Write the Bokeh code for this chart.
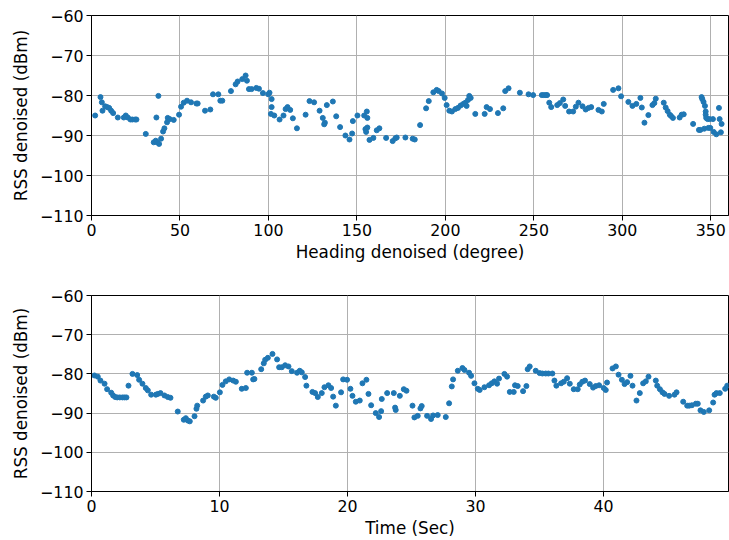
from bokeh.plotting import figure
from bokeh.layouts import column
from bokeh.models import FixedTicker, CustomJSTickFormatter, Range1d
from bokeh.embed import file_html
from bokeh.resources import INLINE

# ---- Top panel: RSS vs heading ----
heading = [
    2.07, 5.08, 5.84, 6.21, 7.72, 8.85, 9.97, 11.10, 12.23, 14.87, 18.25, 19.38, 20.51,
    22.01, 23.14, 24.65, 25.40, 30.67, 35.18, 36.31, 37.06, 38.19, 39.32, 36.68, 37.81,
    40.45, 41.20, 42.70, 43.08, 44.21, 46.47, 49.48, 50.61, 52.11, 53.99, 56.25, 59.26,
    60.01, 64.15, 67.16, 68.67, 71.68, 72.80, 73.93, 78.82, 81.46, 82.58, 85.22, 87.10,
    87.85, 88.98, 90.49, 93.12, 94.63, 96.88, 99.89, 100.6, 101.8, 101.8, 101.4, 103.3,
    106.3, 108.5, 109.7, 110.8, 112.3, 113.8, 116.1, 121.0, 123.2, 125.8, 128.9, 130.7,
    131.9, 131.5, 133.0, 136.4, 138.3, 140.5, 143.5, 145.8, 147.3, 147.7, 150.3, 154.1,
    155.6, 155.9, 154.8, 155.2, 155.9, 157.1, 159.3, 161.2, 162.7, 166.5, 170.2, 171.7,
    172.5, 177.4, 181.5, 182.7, 185.7, 189.1, 190.6, 193.2, 195.1, 196.2, 198.1, 199.6,
    200.7, 202.2, 203.7, 205.6, 207.1, 208.6, 210.1, 211.3, 212.0, 212.8, 213.5, 214.3,
    216.9, 222.2, 223.3, 225.2, 229.7, 232.7, 233.8, 235.7, 242.1, 247.0, 249.6, 254.5,
    255.6, 256.8, 257.5, 258.7, 259.8, 263.2, 264.7, 266.6, 267.7, 269.9, 272.2, 273.7,
    275.2, 277.5, 279.3, 280.9, 282.4, 286.5, 288.4, 289.5, 294.8, 297.8, 299.3, 303.4,
    305.7, 307.9, 310.2, 311.0, 312.5, 314.7, 317.0, 318.1, 318.9, 323.4, 324.5, 325.6,
    326.8, 327.5, 328.6, 332.4, 333.5, 334.7, 340.0, 343.3, 344.1, 346.3, 348.6, 349.7,
    351.6, 353.1, 355.7, 344.8, 345.2, 345.9, 346.7, 347.1, 347.1, 347.4, 348.2, 349.3,
    351.2, 354.6, 355.0, 356.1,
]
rss_heading = [
    -85.0, -80.4, -81.7, -83.8, -82.7, -82.9, -83.1, -83.8, -84.4, -85.5, -85.5, -85.0, -85.5,
    -86.0, -86.0, -86.0, -86.0, -89.6, -91.7, -91.3, -91.7, -92.1, -90.8, -85.5, -80.1,
    -89.0, -88.2, -86.7, -85.6, -85.9, -86.1, -84.8, -82.8, -81.8, -81.3, -81.7, -82.0,
    -82.0, -83.8, -83.5, -79.7, -79.7, -81.3, -81.3, -78.9, -77.2, -76.5, -75.9, -75.0,
    -76.3, -78.4, -78.4, -78.1, -78.3, -79.4, -79.7, -79.3, -80.9, -82.9, -84.6, -85.0,
    -86.0, -85.0, -83.4, -82.9, -83.6, -85.7, -88.2, -84.8, -81.4, -81.7, -83.8, -85.6,
    -86.8, -87.2, -82.4, -81.5, -85.2, -87.9, -90.0, -91.0, -89.5, -86.4, -85.0, -85.0,
    -84.0, -85.6, -88.4, -89.1, -88.0, -91.1, -90.6, -88.7, -88.2, -90.6, -91.4, -90.7,
    -90.5, -90.5, -90.8, -91.0, -87.4, -83.2, -81.4, -79.2, -78.6, -78.9, -79.5, -80.6,
    -82.4, -83.8, -84.0, -83.4, -83.1, -82.5, -82.1, -81.8, -82.6, -81.1, -80.1, -80.6,
    -84.6, -84.6, -82.9, -83.4, -84.4, -83.2, -78.9, -78.2, -79.3, -79.7, -79.9, -79.9,
    -79.9, -79.9, -79.9, -81.8, -82.9, -82.4, -81.9, -81.0, -82.6, -84.0, -84.0, -82.8,
    -81.8, -82.7, -83.5, -83.1, -82.9, -83.6, -84.0, -82.1, -78.6, -78.2, -80.2, -81.6,
    -82.6, -82.1, -80.6, -83.0, -86.8, -84.9, -82.4, -81.9, -80.8, -81.8, -83.0, -83.9,
    -84.8, -85.1, -85.6, -85.5, -84.8, -84.7, -87.1, -88.6, -88.6, -88.3, -88.1, -88.1,
    -89.1, -89.7, -89.2, -80.4, -80.9, -81.6, -82.6, -84.0, -84.8, -85.6, -85.9, -85.9,
    -85.9, -83.1, -85.9, -87.1,
]

# ---- Bottom panel: RSS vs time ----
time_sec = [
    0.23, 0.49, 0.70, 1.02, 1.22, 1.54, 1.69, 1.85, 2.01, 2.21, 2.42, 2.58, 2.73, 2.89,
    3.20, 3.57, 3.72, 3.98, 4.24, 4.40, 4.66, 5.03, 5.18, 5.39, 5.70, 5.96, 6.17, 6.74,
    7.21, 7.37, 7.53, 7.68, 8.05, 8.20, 8.26, 8.72, 8.93, 9.09, 9.56, 9.71, 10.03, 10.23,
    10.49, 10.76, 11.07, 11.28, 11.74, 12.06, 12.16, 12.53, 12.63, 12.73, 13.26, 13.46,
    13.57, 13.78, 14.14, 14.50, 14.66, 14.87, 15.13, 15.39, 15.65, 16.06, 16.27, 16.43,
    16.69, 16.79, 17.26, 17.47, 17.68, 17.99, 18.20, 18.51, 18.72, 18.88, 19.09, 19.50,
    19.66, 19.97, 20.23, 20.39, 20.65, 20.96, 21.17, 21.48, 21.64, 21.85, 22.21, 22.47,
    22.63, 22.68, 23.10, 23.62, 23.72, 23.77, 24.09, 24.40, 24.61, 25.08, 25.23, 25.49,
    25.70, 25.80, 26.22, 26.53, 26.69, 27.05, 27.68, 27.94, 28.15, 28.25, 28.62, 28.98,
    29.14, 29.50, 29.66, 29.92, 30.18, 30.33, 30.70, 31.06, 31.27, 31.48, 31.69, 31.84,
    32.26, 32.47, 32.68, 32.99, 33.09, 33.30, 33.72, 33.98, 34.08, 34.24, 34.71, 35.02,
    35.23, 35.49, 35.70, 36.01, 36.17, 36.32, 36.69, 36.90, 37.16, 37.37, 37.68, 37.99,
    38.15, 38.35, 38.56, 38.93, 39.19, 39.40, 39.66, 40.02, 40.18, 40.28, 40.71, 40.97,
    41.18, 41.44, 41.65, 41.85, 42.11, 42.27, 42.58, 42.84, 43.10, 43.31, 43.52, 44.09,
    44.20, 44.41, 44.61, 44.77, 45.13, 45.55, 45.71, 46.23, 46.54, 46.70, 46.91, 47.22,
    47.37, 47.58, 47.84, 48.26, 48.57, 48.68, 48.83, 49.09, 49.51, 49.67,
]
rss_time = [
    -80.4, -80.7, -81.7, -82.5, -83.9, -84.8, -85.5, -85.9, -86.0, -86.0, -86.0, -86.0, -86.0, -83.0,
    -80.0, -80.3, -81.5, -82.5, -83.6, -84.2, -85.3, -85.3, -85.1, -84.9, -85.5, -85.9, -86.1, -89.6,
    -91.7, -91.3, -91.9, -92.1, -90.8, -88.9, -88.1, -86.8, -85.8, -85.5, -85.8, -86.1, -84.7, -82.8,
    -81.9, -81.4, -81.7, -82.0, -83.8, -83.6, -79.7, -79.7, -81.4, -81.3, -78.8, -77.3,
    -76.4, -75.9, -74.9, -76.3, -78.3, -78.3, -77.8, -78.1, -79.3, -79.7, -79.2, -79.6,
    -80.8, -83.0, -84.6, -84.9, -85.9, -84.9, -83.4, -82.9, -83.6, -85.8, -88.1, -84.7,
    -81.4, -81.5, -83.8, -85.6, -87.1, -86.8, -82.4, -81.5, -85.1, -88.0, -90.0, -91.0,
    -89.5, -86.4, -84.9, -84.9, -88.6, -89.2, -85.6, -83.9, -84.3, -88.1, -91.1, -90.7,
    -88.8, -88.2, -90.7, -91.5, -90.6, -90.5, -91.0, -87.5, -83.2, -81.4, -79.2, -78.5,
    -79.0, -79.7, -80.5, -82.4, -83.8, -84.1, -83.4, -82.9, -82.4, -81.9, -82.5, -81.2,
    -80.0, -80.7, -84.6, -84.6, -82.9, -83.1, -84.4, -83.1, -78.8, -78.1, -79.2, -79.8,
    -79.9, -79.9, -79.9, -79.9, -81.7, -83.0, -82.4, -82.0, -81.1, -82.5, -83.9, -83.9,
    -82.7, -82.0, -81.7, -82.6, -83.5, -83.1, -82.9, -83.6, -84.1, -82.2, -78.6, -78.1,
    -80.2, -81.5, -82.6, -82.1, -80.5, -83.0, -86.8, -84.9, -82.4, -81.9, -80.7, -81.7,
    -83.0, -83.9, -84.7, -85.1, -85.6, -85.3, -84.7, -87.1, -88.1, -88.1, -88.0, -87.6,
    -87.6, -89.3, -89.7, -89.3, -87.3, -85.3, -84.9, -84.9, -83.8, -83.0,
]

y_ticks = [-110, -100, -90, -80, -70, -60]
heading_ticks = [0, 50, 100, 150, 200, 250, 300, 350]
time_ticks = [0, 10, 20, 30, 40]

FONT = "DejaVu Sans"
TICK_FS = "15.8px"
LABEL_FS = "16.8px"
BLUE = "#1f77b4"

minus_fmt = CustomJSTickFormatter(code="""
    var s = Math.abs(tick).toString();
    return tick < 0 ? '\u2212' + s : s;
""")


def style(p, xticks, xlabel):
    p.xaxis.ticker = FixedTicker(ticks=xticks)
    p.yaxis.ticker = FixedTicker(ticks=y_ticks)
    p.yaxis.formatter = minus_fmt
    p.xaxis.axis_label = xlabel
    p.yaxis.axis_label = "RSS denoised (dBm)"
    for ax in (p.xaxis[0], p.yaxis[0]):
        ax.axis_line_color = "black"
        ax.axis_line_width = 1
        ax.major_tick_line_color = "black"
        ax.major_tick_out = 5
        ax.major_tick_in = 0
        ax.minor_tick_line_color = None
        ax.major_label_text_font = FONT
        ax.major_label_text_font_size = TICK_FS
        ax.major_label_text_color = "black"
        ax.axis_label_text_font = FONT
        ax.axis_label_text_font_size = LABEL_FS
        ax.axis_label_text_font_style = "normal"
        ax.axis_label_text_color = "black"
        ax.major_label_standoff = 3
    p.xaxis.axis_label_standoff = 3
    p.yaxis.axis_label_standoff = 6
    p.grid.grid_line_color = "#b0b0b0"
    p.grid.grid_line_width = 1
    p.outline_line_color = "black"
    p.outline_line_width = 1
    p.outline_line_alpha = 1
    p.background_fill_color = "white"
    p.border_fill_color = "white"


p1 = figure(width=729, height=280, output_backend="svg", toolbar_location=None,
            x_range=Range1d(0, 360), y_range=Range1d(-110, -60),
            min_border_left=91, min_border_right=1, min_border_top=15,
            min_border_bottom=65)
p1.scatter(heading, rss_heading, size=5, color=BLUE, line_color=BLUE)
style(p1, heading_ticks, "Heading denoised (degree)")

p2 = figure(width=729, height=260, output_backend="svg", toolbar_location=None,
            x_range=Range1d(0, 49.77), y_range=Range1d(-110, -60),
            min_border_left=91, min_border_right=1, min_border_top=15,
            min_border_bottom=45)
p2.scatter(time_sec, rss_time, size=5, color=BLUE, line_color=BLUE)
style(p2, time_ticks, "Time (Sec)")

layout = column(p1, p2, spacing=0)
open("out.html", "w").write(file_html(layout, INLINE))
